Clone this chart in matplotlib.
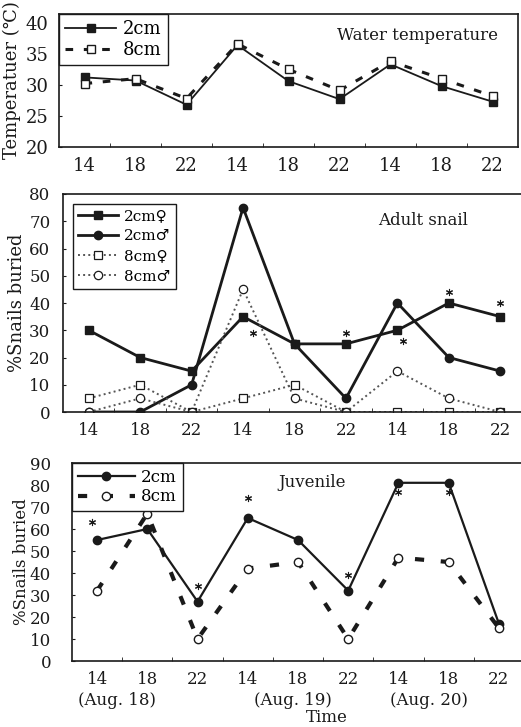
import matplotlib
matplotlib.use("Agg")
import matplotlib.pyplot as plt
import numpy as np

plt.rcParams["font.family"] = ["DejaVu Serif", "DejaVu Sans"]

# Time points (hour of day, three consecutive days)
hours = ["14", "18", "22", "14", "18", "22", "14", "18", "22"]

# Water temperature (deg C)
temp_2cm = [31.2, 30.7, 26.8, 36.4, 30.6, 27.7, 33.3, 29.8, 27.3]
temp_8cm = [30.2, 31.0, 27.8, 36.6, 32.5, 29.1, 33.8, 31.0, 28.2]

# Adult snails buried (%)
adult_2cm_f = [30, 20, 15, 35, 25, 25, 30, 40, 35]
adult_2cm_m = [0, 0, 10, 75, 25, 5, 40, 20, 15]
adult_8cm_f = [5, 10, 0, 5, 10, 0, 0, 0, 0]
adult_8cm_m = [0, 5, 0, 45, 5, 0, 15, 5, 0]
adult_star_x = [3.2, 5.0, 6.1, 7.0, 8.0]
adult_star_y = [29, 29, 26, 44, 40]

# Juvenile snails buried (%)
juv_2cm = [55, 60, 27, 65, 55, 32, 81, 81, 17]
juv_8cm = [32, 67, 10, 42, 45, 10, 47, 45, 15]
juv_star_x = [-0.1, 2.0, 3.0, 5.0, 6.0, 7.0]
juv_star_y = [63, 34, 74, 39, 77, 77]

day_labels = ["(Aug. 18)", "(Aug. 19)", "(Aug. 20)"]
day_label_x = [0.9, 4.4, 7.1]

INK = "#1a1a1a"
W, H = 521, 727


def frac(left, top, right, bottom):
    return [left / W, 1 - bottom / H, (right - left) / W, (bottom - top) / H]


def style_axis(ax, xs, tick_size, ypad):
    ax.set_xlim(0, 9)
    ax.set_xticks(xs + 0.5)
    ax.set_xticklabels(hours, fontsize=tick_size)
    ax.set_xticks(np.arange(1, 9), minor=True)
    ax.tick_params(axis="x", which="major", length=0, pad=7, colors=INK)
    ax.tick_params(axis="x", which="minor", direction="in", length=3, color=INK)
    ax.tick_params(axis="y", direction="in", length=2, labelsize=tick_size,
                   colors=INK, pad=ypad)
    for sp in ax.spines.values():
        sp.set_linewidth(1.2)
        sp.set_color(INK)


def legend(ax, size, pad=0.0, spacing=0.15, hlen=2.6):
    leg = ax.legend(loc="upper left", borderaxespad=pad, fancybox=False,
                    framealpha=1, edgecolor=INK, fontsize=size,
                    handlelength=hlen, handletextpad=0.4, borderpad=0.35,
                    labelspacing=spacing)
    leg.get_frame().set_linewidth(1.0)
    return leg


fig = plt.figure(figsize=(W / 100, H / 100), dpi=100)
x = np.arange(9)

# Panel 1: water temperature
ax1 = fig.add_axes(frac(59, 14, 518, 147))
ax1.plot(x + 0.5, temp_2cm, "-", color=INK, lw=1.3, marker="s", ms=6,
         mfc=INK, mec=INK, label="2cm")
ax1.plot(x + 0.5, temp_8cm, color=INK, lw=2.2, dashes=(2.5, 3.5), marker="s",
         ms=6, mfc="white", mec=INK, mew=1.0, label="8cm")
ax1.set_ylim(20, 41.4)
ax1.set_yticks([20, 25, 30, 35, 40])
style_axis(ax1, x, 13, 7.5)
ax1.set_ylabel("Temperatuer (℃)", fontsize=13, color=INK, labelpad=3)
ax1.text(0.78, 0.84, "Water temperature", transform=ax1.transAxes,
         ha="center", va="center", fontsize=12, color=INK)
legend(ax1, 13, hlen=2.8)

# Panel 2: adult snails
ax2 = fig.add_axes(frac(63, 194, 526, 412))
ax2.plot(x + 0.5, adult_2cm_f, "-", color=INK, lw=2.0, marker="s", ms=6,
         mfc=INK, mec=INK, label="2cm♀")
ax2.plot(x + 0.5, adult_2cm_m, "-", color=INK, lw=2.0, marker="o", ms=6,
         mfc=INK, mec=INK, label="2cm♂")
ax2.plot(x + 0.5, adult_8cm_f, ":", color="#555555", lw=1.4, marker="s",
         ms=6, mfc="white", mec=INK, mew=0.9, label="8cm♀")
ax2.plot(x + 0.5, adult_8cm_m, ":", color="#555555", lw=1.4, marker="o",
         ms=6, mfc="white", mec=INK, mew=0.9, label="8cm♂")
ax2.scatter(np.array(adult_star_x) + 0.5, adult_star_y, marker=(6, 2, 0),
            s=20, color=INK, lw=0.8, zorder=5)
ax2.set_ylim(0, 80)
ax2.set_yticks(np.arange(0, 81, 10))
style_axis(ax2, x, 12, 9)
ax2.set_ylabel("%Snails buried", fontsize=13, color=INK, labelpad=2)
ax2.text(0.777, 0.88, "Adult snail", transform=ax2.transAxes,
         ha="center", va="center", fontsize=12, color=INK)
legend(ax2, 11, pad=0.65, spacing=0.4)

# Panel 3: juvenile snails
ax3 = fig.add_axes(frac(72, 463, 524, 661))
ax3.plot(x + 0.5, juv_2cm, "-", color=INK, lw=1.6, marker="o", ms=6,
         mfc=INK, mec=INK, label="2cm")
ax3.plot(x + 0.5, juv_8cm, color=INK, lw=3.0, dashes=(2.2, 4.0), marker="o",
         ms=6, mfc="white", mec=INK, mew=1.0, label="8cm")
ax3.scatter(np.array(juv_star_x) + 0.5, juv_star_y, marker=(6, 2, 0),
            s=20, color=INK, lw=0.8, zorder=5)
ax3.set_ylim(0, 90)
ax3.set_yticks(np.arange(0, 91, 10))
style_axis(ax3, x, 12, 15)
ax3.set_ylabel("%Snails buried", fontsize=12, color=INK, labelpad=0)
ax3.text(0.531, 0.904, "Juvenile", transform=ax3.transAxes,
         ha="center", va="center", fontsize=12, color=INK)
for lx, lab in zip(day_label_x, day_labels):
    ax3.text(lx, -0.2, lab, transform=ax3.get_xaxis_transform(),
             ha="center", va="center", fontsize=12, color=INK)
ax3.text(5.08, -0.285, "Time", transform=ax3.get_xaxis_transform(),
         ha="center", va="center", fontsize=12, color=INK)
legend(ax3, 12, hlen=3.4)

fig.savefig("out.png", dpi=100)
